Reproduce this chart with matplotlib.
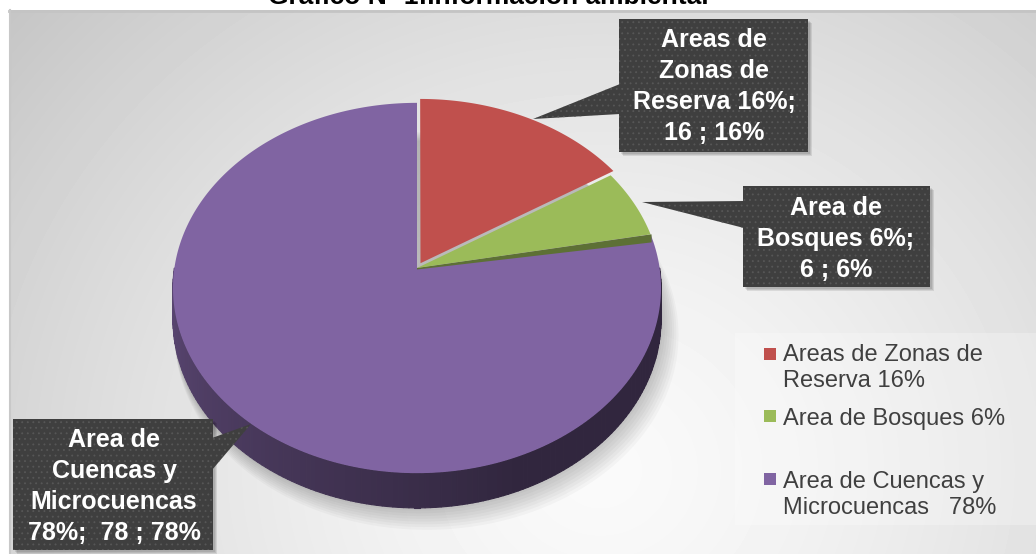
import numpy as np
import matplotlib
matplotlib.use('Agg')
import matplotlib.pyplot as plt
from matplotlib.patches import Polygon, Rectangle
from matplotlib.collections import PolyCollection
from matplotlib.colors import to_rgb

plt.rcParams['font.family'] = ['Liberation Sans', 'DejaVu Sans']
plt.rcParams['hatch.linewidth'] = 0.6

################################################################
#################### DATA ######################################
################################################################

title = 'Gráfico Nº 1:Información ambiental'
names = ['Areas de Zonas de Reserva', 'Area de Bosques', 'Area de Cuencas y Microcuencas']
values = [16, 6, 78]
explode = [0.03, 0, 0]
colors = ['#c0504d', '#9bbb59', '#8064a2']

callout_labels = ['Areas de\nZonas de\nReserva 16%;\n16 ; 16%',
                  'Area de\nBosques 6%;\n6 ; 6%',
                  'Area de\nCuencas y\nMicrocuencas\n78%;  78 ; 78%']
legend_labels = ['Areas de Zonas de\nReserva 16%',
                 'Area de Bosques 6%',
                 'Area de Cuencas y\nMicrocuencas   78%']

################################################################
#################### LAYOUT ####################################
################################################################

W, H = 1036, 554
cx, cy = 417, 268          # pie apex in pixels
rx, ry, k = 242.6, 183, 0.108   # radii and perspective factor
depth = 31

# callout boxes (x, y, w, h), pointer triangles, text centre / first baseline
boxes = [(619, 19, 189, 133), (743, 186, 187, 101), (13, 419, 200, 131)]
pointers = [[(620, 84), (533, 119), (620, 114)],
            [(744, 201), (642, 202), (744, 228)],
            [(212, 438), (251, 424), (212, 470)]]
text_x = [714, 836, 114]
text_y0 = [47, 215, 447]
line_dy = 31

leg_square_y = [348, 410, 473]
leg_text_y0 = [361, 425, 488]
leg_dy = 26


def proj(u, v):
    s = 1.0 / (1.0 + k * v)
    return cx + rx * u * s, cy - ry * v * s


def shade(c, f):
    return tuple(np.array(to_rgb(c)) * f)


fig = plt.figure(figsize=(W / 100, H / 100), dpi=100)

# let matplotlib compute the slice geometry
tmp = fig.add_axes([0, 0, 0.1, 0.1])
wedges, _ = tmp.pie(values, startangle=90, counterclock=False, explode=explode)
geo = [(np.array(w.center), w.r, w.theta1, w.theta2) for w in wedges]
fig.delaxes(tmp)

ax = fig.add_axes([0, 0, 1, 1])

# Background gradient
yy, xx = np.mgrid[10:H, 9:W]
d = np.hypot(xx - 600, (yy - 470) * 1.1)
bg = 0.98 - 0.2 * (d / 760) ** 1.4
ax.imshow(bg, cmap='gray', vmin=0, vmax=1, extent=(9, W, H, 10),
          zorder=0, interpolation='bilinear', aspect='auto')
ax.plot([9, W], [10.5, 10.5], color='#c4c4c4', lw=2, zorder=1)
ax.plot([9.5, 9.5], [10, H], color='#c8c8c8', lw=1.5, zorder=1)
ax.add_patch(Rectangle((735, 333), W - 735, 192, fc='white', alpha=0.25, ec='none', zorder=1))

# Pie shadow
t = np.linspace(0, 2 * np.pi, 240)
for j in range(1, 9):
    sc = 1 + 0.004 * j
    u, v = sc * np.cos(t), sc * np.sin(t)
    x, y = proj(u, v)
    y = y + depth / (1 + k * v) + 1.8 * j
    ax.fill(x + 1.2 * j, y, color='black', alpha=0.028, lw=0, zorder=2)

# Side bands (front half only)
for (c, r, th1, th2), col in zip(geo, colors):
    for off in (-360, 0, 360):
        lo, hi = max(th1, 180 + off), min(th2, 360 + off)
        if hi <= lo:
            continue
        ang = np.radians(np.linspace(lo, hi, 160))
        u = c[0] + r * np.cos(ang)
        v = c[1] + r * np.sin(ang)
        x, y = proj(u, v)
        yb = y + depth / (1 + k * v)
        quads, fcs = [], []
        for i in range(len(ang) - 1):
            quads.append([(x[i], y[i]), (x[i + 1], y[i + 1]), (x[i + 1], yb[i + 1]), (x[i], yb[i])])
            frac = ((np.degrees(ang[i]) % 360) - 180) / 180
            f = 0.72 - 0.34 * min(1, frac * 1.6)
            fcs.append(shade(col, f))
        ax.add_collection(PolyCollection(quads, facecolors=fcs, edgecolors=fcs, linewidths=0.8, zorder=3))


def top_face(c, r, th1, th2):
    ang = np.radians(np.linspace(th1, th2, 240))
    u = np.concatenate([[c[0]], c[0] + r * np.cos(ang)])
    v = np.concatenate([[c[1]], c[1] + r * np.sin(ang)])
    x, y = proj(u, v)
    return np.column_stack([x, y])


# purple top, then the cut face of the green slice, then green and red
c, r, th1, th2 = geo[2]
ax.add_patch(Polygon(top_face(c, r, th1, th2), closed=True, fc=colors[2], ec='none', zorder=4))

c, r, th1, th2 = geo[1]
ax_, ay_ = proj(c[0], c[1])
bx_, by_ = proj(c[0] + r * np.cos(np.radians(th1)), c[1] + r * np.sin(np.radians(th1)))
ax.add_patch(Polygon([(ax_, ay_), (bx_ + 1, by_), (bx_ + 1, by_ + 8), (ax_, ay_ + 1.5)],
                     closed=True, fc=shade(colors[1], 0.6), ec='none', zorder=5))
ax.add_patch(Polygon(top_face(c, r, th1, th2), closed=True, fc=colors[1], ec='none', zorder=6))

c, r, th1, th2 = geo[0]
ax.add_patch(Polygon(top_face(c, r, th1, th2), closed=True, fc=colors[0], ec='none', zorder=6))

# Callouts
for (bx, by, bw, bh), tri, tx, ty, lab in zip(boxes, pointers, text_x, text_y0, callout_labels):
    for j in range(1, 4):
        ax.add_patch(Rectangle((bx + 1 + j, by + 1 + j), bw, bh, fc='black', alpha=0.09, ec='none', zorder=7))
    ax.add_patch(Polygon(tri, closed=True, fc='#3f3f3f', ec='#575757', lw=0, hatch='...', zorder=8))
    ax.add_patch(Rectangle((bx, by), bw, bh, fc='#3f3f3f', ec='#575757', lw=0, hatch='...', zorder=8))
    for i, line in enumerate(lab.split('\n')):
        ax.text(tx, ty + i * line_dy, line, ha='center', va='baseline', color='white',
                fontsize=18, fontweight='bold', zorder=9)

# Legend
for col, sy, ty, lab in zip(colors, leg_square_y, leg_text_y0, legend_labels):
    ax.add_patch(Rectangle((764, sy), 12, 12, fc=col, ec='none', zorder=9))
    for i, line in enumerate(lab.split('\n')):
        ax.text(783, ty + i * leg_dy, line, ha='left', va='baseline', color='#404040',
                fontsize=17, zorder=9)

# Title (cut at the top as in the original)
ax.text(488, 4.5, title, ha='center', va='baseline', fontsize=19, fontweight='bold',
        color='black', clip_on=False, zorder=9)

ax.set_xlim(0, W)
ax.set_ylim(H, 0)
ax.axis('off')

fig.savefig('out.png', dpi=100)
